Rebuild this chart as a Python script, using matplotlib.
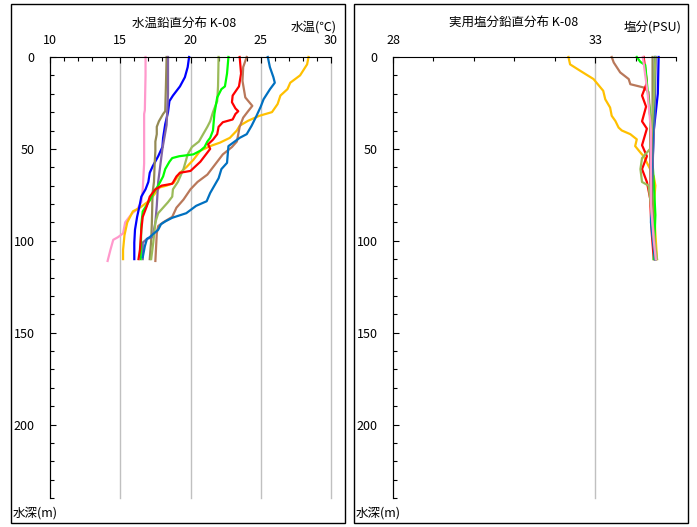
import matplotlib
matplotlib.use('Agg')
import matplotlib.pyplot as plt
from matplotlib.patches import Rectangle
from matplotlib.ticker import MultipleLocator, FixedLocator

plt.rcParams['font.family'] = ['Noto Sans CJK JP', 'DejaVu Sans']

# ---- water temperature profiles (depth m, temp degC) ----
pink_d = [0, 10, 29, 31, 58, 72, 79, 83, 85, 90, 96, 98, 99.5, 105, 111]
pink_t = [16.8, 16.8, 16.75, 16.7, 16.7, 16.6, 16.5, 16.2, 15.85, 15.35, 15.2, 14.85, 14.5, 14.3, 14.1]

orange_d = [0, 4, 10, 14, 17.5, 21, 25.6, 30, 32, 34.7, 37.4, 40, 44, 46.6, 48.5, 51, 56, 60, 63,
            68.5, 70, 71, 74, 78, 82, 84, 87, 90, 97, 105, 110]
orange_t = [28.4, 28.3, 27.8, 27.1, 26.9, 26.4, 26.2, 25.8, 24.9, 24.1, 23.5, 23.3, 22.8, 22.1, 21.4,
            20.7, 20.2, 19.7, 19.25, 18.8, 18.3, 17.8, 17.5, 17.1, 16.4, 15.9, 15.7, 15.5, 15.3, 15.2, 15.2]

blue_d = [0, 5.5, 11, 16, 21, 24, 30, 36.6, 44, 49, 54, 59.6, 63, 68, 72, 76, 80, 87, 94, 101, 110]
blue_t = [19.9, 19.8, 19.6, 19.25, 18.75, 18.5, 18.4, 18.2, 18.05, 18.0, 17.7, 17.3, 17.1, 17.0,
          16.8, 16.5, 16.4, 16.2, 16.05, 16.0, 16.0]

khaki_d = [0, 16, 29.5, 31, 35, 38, 42, 46, 51, 58, 68, 74, 90, 100, 110]
khaki_t = [18.3, 18.25, 18.2, 18.05, 17.75, 17.6, 17.6, 17.5, 17.5, 17.45, 17.4, 17.3, 17.25, 17.2, 17.1]

purple_d = [0, 20, 37, 50, 68, 81, 90, 98, 99, 101, 110]
purple_t = [18.4, 18.4, 18.3, 18.0, 17.7, 17.6, 17.5, 17.3, 16.9, 16.6, 16.6]

lgreen_d = [0, 16, 24, 30, 35, 38, 42, 46, 49, 53, 61, 68, 72, 76, 79, 82, 85, 90, 101, 110]
lgreen_t = [22.0, 21.96, 21.9, 21.6, 21.4, 21.2, 20.9, 20.6, 20.1, 19.8, 19.5, 19.1, 18.75, 18.7,
            18.4, 18.05, 17.7, 17.5, 17.35, 17.2]

green_d = [0, 9, 16, 17.5, 22, 31, 40, 44, 46, 49, 51, 53, 54, 55, 57, 61, 65, 70, 74, 78, 84, 91, 110]
green_t = [22.7, 22.6, 22.45, 22.2, 21.9, 21.7, 21.6, 21.4, 21.2, 21.0, 20.7, 20.2, 19.2, 18.7,
           18.5, 18.2, 18.05, 17.7, 17.35, 17.1, 16.6, 16.5, 16.45]

red_d = [0, 9, 16, 21, 24.6, 28, 29.5, 31, 34, 35.5, 38, 42, 45, 47.5, 50, 57, 62, 63, 65, 69, 70,
         72, 76, 81, 87, 94, 105, 110]
red_t = [23.5, 23.6, 23.45, 23.0, 22.95, 23.2, 23.4, 23.2, 23.0, 22.3, 22.0, 21.9, 21.6, 21.25,
         21.4, 20.7, 20.0, 19.25, 19.0, 18.7, 17.95, 17.5, 17.1, 16.9, 16.6, 16.5, 16.4, 16.3]

brown_d = [0, 5.5, 13, 22, 26.6, 29.5, 33, 38, 42, 46, 49, 53, 57, 64, 68, 72, 77.6, 82, 87, 90,
           92, 96, 111]
brown_t = [24.0, 23.75, 23.7, 23.9, 24.4, 24.1, 23.75, 23.5, 23.4, 23.3, 22.95, 22.3, 21.9, 21.2,
           20.5, 20.0, 19.5, 19.0, 18.7, 18.05, 17.7, 17.6, 17.5]

steel_d = [0, 5.5, 11, 14, 17.5, 23, 27, 32, 37.4, 42, 44, 48.5, 57.6, 61, 66, 70, 74, 78.5, 81,
           85, 87.5, 89.5, 91, 94, 98, 99, 103, 109]
steel_t = [25.5, 25.65, 25.9, 26.0, 25.66, 25.2, 25.0, 24.7, 24.35, 24.0, 23.5, 22.7, 22.6, 22.2,
           22.0, 21.7, 21.4, 21.15, 20.4, 19.7, 18.7, 18.2, 17.9, 17.7, 17.1, 16.9, 16.75, 16.6]

# ---- salinity profiles (depth m, PSU) ----
orange_sd = [0, 4, 7.5, 12, 18.4, 23, 27.5, 32, 34.8, 38.4, 40, 42, 44.8, 48.5, 52, 54, 61, 65, 70,
             81, 96, 110]
orange_s = [32.34, 32.38, 32.63, 32.96, 33.2, 33.25, 33.37, 33.41, 33.5, 33.58, 33.66, 33.87, 34.03,
            33.99, 34.12, 34.2, 34.36, 34.45, 34.49, 34.45, 34.49, 34.53]

brown_sd = [0, 3, 8.4, 12, 14.8, 16.6, 19, 32, 68, 86, 110]
brown_s = [33.41, 33.46, 33.62, 33.83, 33.87, 34.2, 34.32, 34.36, 34.36, 34.4, 34.49]

red_sd = [0, 6.6, 14, 21, 27, 35, 39, 48, 54, 61, 68, 77, 96, 110]
red_s = [34.2, 34.24, 34.28, 34.16, 34.26, 34.16, 34.28, 34.16, 34.28, 34.16, 34.28, 34.36, 34.4, 34.45]

green_sd = [0, 2.7, 4.4, 14, 32, 50, 68, 86, 110]
green_s = [34.03, 34.12, 34.24, 34.28, 34.36, 34.4, 34.45, 34.49, 34.45]

lgreen_sd = [0, 23, 50, 55, 61, 68, 70, 77, 96, 110]
lgreen_s = [34.49, 34.45, 34.36, 34.16, 34.12, 34.16, 34.32, 34.36, 34.45, 34.53]

pink_sd = [0, 20, 40, 80, 100, 110]
pink_s = [34.18, 34.3, 34.38, 34.38, 34.45, 34.5]

khaki_sd = [0, 30, 60, 90, 110]
khaki_s = [34.42, 34.42, 34.38, 34.42, 34.5]

purple_sd = [0, 30, 60, 90, 110]
purple_s = [34.5, 34.47, 34.42, 34.4, 34.48]

blue_sd = [0, 20, 40, 70, 95, 110]
blue_s = [34.57, 34.55, 34.45, 34.4, 34.42, 34.5]

steel_sd = [0, 30, 60, 90, 110]
steel_s = [34.48, 34.45, 34.4, 34.38, 34.48]

temp_series = [
    (pink_t, pink_d, '#FF99CC'), (orange_t, orange_d, '#FFC000'), (blue_t, blue_d, '#0000FF'),
    (khaki_t, khaki_d, '#948A54'), (purple_t, purple_d, '#8064A2'), (lgreen_t, lgreen_d, '#9BBB59'),
    (green_t, green_d, '#00FF00'), (red_t, red_d, '#FF0000'), (brown_t, brown_d, '#B9785A'),
    (steel_t, steel_d, '#0070C0'),
]
sal_series = [
    (orange_s, orange_sd, '#FFC000'), (brown_s, brown_sd, '#B9785A'), (red_s, red_sd, '#FF0000'),
    (green_s, green_sd, '#00FF00'), (blue_s, blue_sd, '#0000FF'), (purple_s, purple_sd, '#8064A2'),
    (steel_s, steel_sd, '#0070C0'), (khaki_s, khaki_sd, '#948A54'), (lgreen_s, lgreen_sd, '#9BBB59'),
    (pink_s, pink_sd, '#FF99CC'),
]

temp_ticks = [10, 15, 20, 25, 30]
sal_ticks = [28, 33]

W, H = 697, 527
fig = plt.figure(figsize=(W / 100, H / 100), dpi=100)


def px_rect(x0, x1, y0, y1):
    return [x0 / W, 1 - y1 / H, (x1 - x0) / W, (y1 - y0) / H]


# panel frames
for x0, x1 in [(11, 345), (354, 688)]:
    fig.add_artist(Rectangle((x0 / W, 1 - 523 / H), (x1 - x0) / W, (523 - 4) / H,
                             transform=fig.transFigure, fill=False, ec='black', lw=1.0))

ax1 = fig.add_axes(px_rect(50, 331, 57, 498))
ax2 = fig.add_axes(px_rect(393, 676, 57, 498))

ax1.set_xlim(10, 30)
ax1.xaxis.set_major_locator(FixedLocator(temp_ticks))
ax2.set_xlim(28, 35)
ax2.xaxis.set_major_locator(FixedLocator(sal_ticks))

for ax in (ax1, ax2):
    ax.set_ylim(240, 0)
    ax.xaxis.tick_top()
    ax.yaxis.set_major_locator(MultipleLocator(50))
    ax.yaxis.set_minor_locator(MultipleLocator(10))
    ax.xaxis.set_minor_locator(MultipleLocator(1))
    ax.tick_params(axis='x', which='both', direction='in', labelsize=9, pad=7)
    ax.tick_params(axis='y', which='both', direction='in', labelsize=9, pad=11)
    ax.tick_params(which='major', length=4, width=0.8)
    ax.tick_params(which='minor', length=3, width=0.8)
    ax.spines['right'].set_visible(False)
    ax.spines['bottom'].set_visible(False)
    ax.grid(axis='x', which='major', color='#C0C0C0', lw=1.0)
    ax.set_axisbelow(True)
    for gl in ax.get_xgridlines():
        gl.set_clip_on(False)

for t, d, c in temp_series:
    ax1.plot(t, d, color=c, lw=1.6, clip_on=False)
for s, d, c in sal_series:
    ax2.plot(s, d, color=c, lw=1.6, clip_on=False)

# titles and labels
fig.text(184 / W, 1 - 23 / H, '水温鉛直分布 K-08', ha='center', va='center', fontsize=9)
fig.text(337 / W, 1 - 27 / H, '水温(℃)', ha='right', va='center', fontsize=9)
fig.text(514 / W, 1 - 23 / H, '実用塩分鉛直分布 K-08', ha='center', va='center', fontsize=9)
fig.text(681 / W, 1 - 27 / H, '塩分(PSU)', ha='right', va='center', fontsize=9)
fig.text(13 / W, 1 - 513 / H, '水深(m)', ha='left', va='center', fontsize=9)
fig.text(356 / W, 1 - 513 / H, '水深(m)', ha='left', va='center', fontsize=9)

fig.savefig('out.png', dpi=100)
